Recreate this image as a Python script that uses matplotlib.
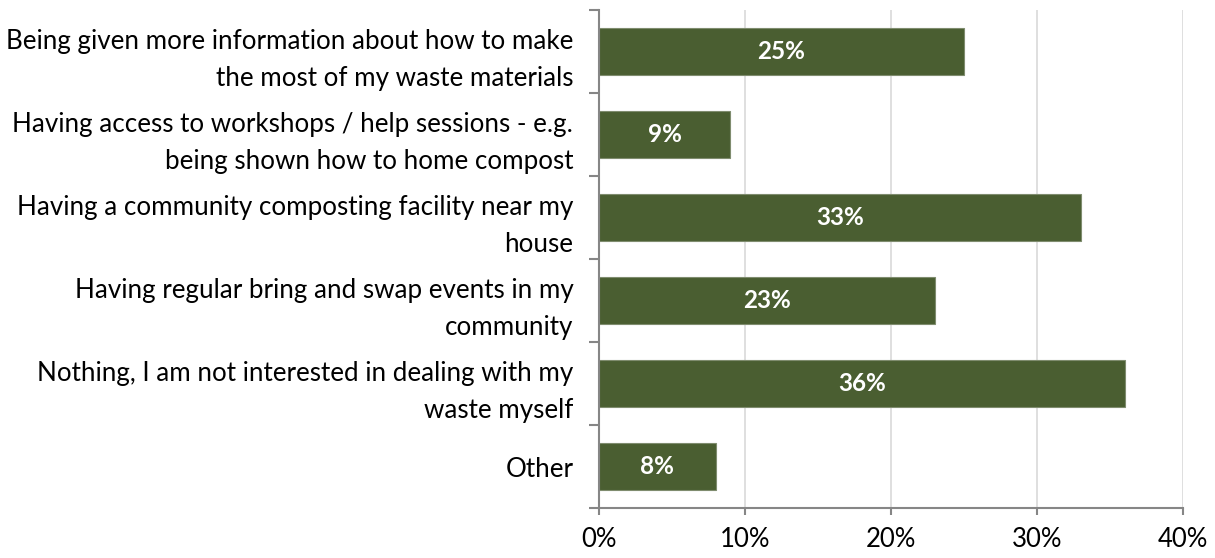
import matplotlib
matplotlib.use("Agg")
import matplotlib.pyplot as plt
from matplotlib.ticker import FuncFormatter, FixedLocator

plt.rcParams['font.family'] = ['Lato', 'DejaVu Sans']

categories = [
    "Being given more information about how to make\nthe most of my waste materials",
    "Having access to workshops / help sessions - e.g.\nbeing shown how to home compost",
    "Having a community composting facility near my\nhouse",
    "Having regular bring and swap events in my\ncommunity",
    "Nothing, I am not interested in dealing with my\nwaste myself",
    "Other",
]
values = [25, 9, 33, 23, 36, 8]
x_ticks = [0, 10, 20, 30, 40]

bar_color = "#4A5E31"
axis_color = "#868686"
grid_color = "#D9D9D9"

fig = plt.figure(figsize=(12.15, 5.58), dpi=100)
ax = fig.add_axes([0.493, 0.0896, 0.4807, 0.8925])

ypos = list(range(len(categories)))
bars = ax.barh(ypos, values, height=0.57, color=bar_color,
               edgecolor="#7F8C6E", linewidth=0.8, zorder=3)
for b, v in zip(bars, values):
    ax.text(b.get_width() / 2, b.get_y() + b.get_height() / 2, f"{v}%",
            ha="center", va="center", color="white", fontsize=17.5,
            fontweight="bold", zorder=4)

ax.set_ylim(len(categories) - 0.5, -0.5)
ax.set_xlim(0, 40)
ax.xaxis.set_major_locator(FixedLocator(x_ticks))
ax.xaxis.set_major_formatter(FuncFormatter(lambda v, p: f"{v:.0f}%"))
ax.grid(axis="x", color=grid_color, linewidth=1.2, zorder=0)

# category labels centred on bars, tick marks on category boundaries
ax.set_yticks(ypos)
ax.set_yticklabels(categories, fontsize=18.7, ha="right",
                   multialignment="right", linespacing=1.62)
ax.tick_params(axis="y", which="major", length=0, pad=18.5)
ax.set_yticks([i - 0.5 for i in range(len(categories) + 1)], minor=True)
ax.tick_params(axis="y", which="minor", length=7, width=1.5, color=axis_color,
               direction="out")

ax.tick_params(axis="x", labelsize=18.5, length=5, width=1.5, color=axis_color,
               pad=9)

for side in ["top", "right"]:
    ax.spines[side].set_visible(False)
for side in ["left", "bottom"]:
    ax.spines[side].set_color(axis_color)
    ax.spines[side].set_linewidth(1.5)
    ax.spines[side].set_zorder(5)

fig.savefig("out.png", dpi=100)
